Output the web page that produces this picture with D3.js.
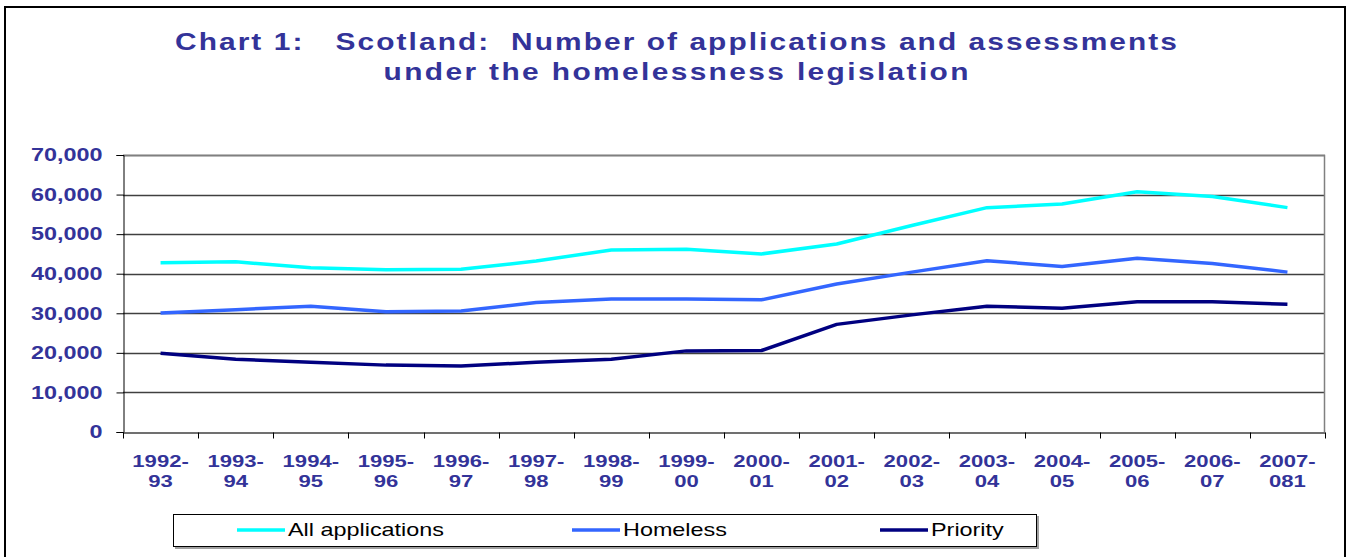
<!DOCTYPE html>
<html>
<head>
<meta charset="utf-8">
<script src="https://cdn.jsdelivr.net/npm/d3@7"></script>
<style>
  body { margin: 0; background: #fff; }
  svg { display: block; font-family: Arial, "Liberation Sans", sans-serif; }
</style>
</head>
<body>
<div class="chart_line"></div>
<script>
// categories and series
var years = ["1992-93", "1993-94", "1994-95", "1995-96", "1996-97", "1997-98", "1998-99", "1999-00",
             "2000-01", "2001-02", "2002-03", "2003-04", "2004-05", "2005-06", "2006-07", "2007-081"];
var allApplications = [42800, 43000, 41500, 41000, 41100, 43200, 46000, 46200,
                       45000, 47500, 52200, 56700, 57600, 60700, 59500, 56700];
var homeless = [30100, 30900, 31800, 30400, 30600, 32700, 33600, 33600,
                33400, 37400, 40400, 43300, 41800, 43900, 42600, 40400];
var priority = [19900, 18400, 17600, 16900, 16700, 17600, 18400, 20500,
                20600, 27200, 29600, 31800, 31300, 32900, 32900, 32300];
var yTicks = [0, 10000, 20000, 30000, 40000, 50000, 60000, 70000];
var titleLines = ["Chart 1:   Scotland:  Number of applications and assessments",
                  "under the homelessness legislation"];

var series = [
  {name: "All applications", values: allApplications, color: "#00ffff"},
  {name: "Homeless", values: homeless, color: "#3366ff"},
  {name: "Priority", values: priority, color: "#000080"}
];

var textColor = "#333399";
var sx = 1.3; // the original picture is stretched sideways, text too
var W = 1350, H = 557;
var margin = {top: 155, right: 25, bottom: 125, left: 123};
var wid = W - margin.left - margin.right,
    hei = H - margin.top - margin.bottom;

var svg = d3.select(".chart_line").append("svg")
  .attr("width", W)
  .attr("height", H);

// outer frame
svg.append("rect")
  .attr("x", 5).attr("y", 7)
  .attr("width", 1340).attr("height", 560)
  .attr("fill", "none").attr("stroke", "#000").attr("stroke-width", 2);

// title
var titleW = [1002, 585];
svg.selectAll("text.title")
  .data(titleLines)
  .enter().append("text")
  .attr("class", "title")
  .attr("transform", function(d, i) { return "translate(676," + (50 + i * 30) + ") scale(" + sx + ",1)"; })
  .attr("text-anchor", "middle")
  .attr("xml:space", "preserve")
  .style("white-space", "pre")
  .attr("textLength", function(d, i) { return titleW[i] / sx; })
  .attr("lengthAdjust", "spacing")
  .attr("fill", textColor)
  .attr("font-size", 23)
  .attr("font-weight", "bold")
  .text(function(d) { return d; });

var g = svg.append("g")
  .attr("transform", "translate(" + margin.left + "," + margin.top + ")");

var x = d3.scaleBand().domain(years).range([0, wid]);
var y = d3.scaleLinear().domain([0, 70000]).range([hei, 0]);

// grid lines
g.selectAll("line.grid")
  .data(yTicks.slice(1))
  .enter().append("line")
  .attr("class", "grid")
  .attr("x1", 0).attr("x2", wid)
  .attr("y1", function(d) { return Math.round(y(d)) + 0.5; })
  .attr("y2", function(d) { return Math.round(y(d)) + 0.5; })
  .attr("stroke", d3.color("#000").copy({opacity: 0.75}))
  .attr("stroke-width", 1.5);

// plot area border (top/right in grey)
g.append("path")
  .attr("d", "M0," + (Math.round(y(70000)) + 0.5) + "H" + (wid - 0.5) + "V" + hei)
  .attr("fill", "none")
  .attr("stroke", "#808080")
  .attr("stroke-width", 1.5);

// Y axis
var yAxis = g.append("g")
  .attr("transform", "translate(0.5,0)")
  .call(d3.axisLeft(y).tickValues(yTicks).tickSize(7)
        .tickFormat(d3.format(",")));
yAxis.select(".domain").attr("stroke", "#000");
yAxis.selectAll(".tick line").attr("stroke", "#000");
yAxis.selectAll(".tick text")
  .attr("x", -21 / sx)
  .attr("transform", "scale(" + sx + ",1)")
  .attr("fill", textColor)
  .attr("font-size", 18)
  .attr("font-weight", "bold")
  .attr("font-family", "Arial, 'Liberation Sans', sans-serif");

// X axis
var xAxis = g.append("g")
  .attr("transform", "translate(0," + (hei + 0.5) + ")")
  .call(d3.axisBottom(x).tickSize(0).tickFormat(""));
xAxis.select(".domain").attr("stroke", "#404040").attr("stroke-width", 1.5);

var bounds = years.map(function(d) { return x(d); }).concat([wid]);
xAxis.selectAll("line.bound")
  .data(bounds)
  .enter().append("line")
  .attr("class", "bound")
  .attr("x1", function(d) { return Math.round(d) + 0.5; })
  .attr("x2", function(d) { return Math.round(d) + 0.5; })
  .attr("y1", 0).attr("y2", 6)
  .attr("stroke", "#000");

var labels = xAxis.selectAll("text.xlab")
  .data(years)
  .enter().append("text")
  .attr("class", "xlab")
  .attr("text-anchor", "middle")
  .attr("fill", textColor)
  .attr("font-size", 17)
  .attr("font-weight", "bold")
  .attr("transform", function(d) { return "translate(" + (x(d) + x.bandwidth() / 2) + ",0) scale(" + sx + ",1)"; });
labels.append("tspan")
  .attr("x", 0).attr("y", 35)
  .text(function(d) { return d.split("-")[0] + "-"; });
labels.append("tspan")
  .attr("x", 0).attr("y", 55)
  .text(function(d) { return d.split("-")[1]; });

// lines
var line = d3.line()
  .x(function(d, i) { return x(years[i]) + x.bandwidth() / 2; })
  .y(function(d) { return y(d); });

g.selectAll("path.series")
  .data(series)
  .enter().append("path")
  .attr("class", "series")
  .attr("d", function(d) { return line(d.values); })
  .attr("fill", "none")
  .attr("stroke", function(d) { return d.color; })
  .attr("stroke-width", 3.5)
  .attr("stroke-linejoin", "round");

// legend
var legend = svg.append("g");
legend.append("rect")
  .attr("x", 175).attr("y", 516)
  .attr("width", 864).attr("height", 33)
  .attr("fill", "#a0a0a0");
legend.append("rect")
  .attr("x", 173.5).attr("y", 514.5)
  .attr("width", 863).attr("height", 32)
  .attr("fill", "#fff").attr("stroke", "#000");

var legendX = [237, 572, 880];
var items = legend.selectAll("g.item")
  .data(series)
  .enter().append("g")
  .attr("class", "item")
  .attr("transform", function(d, i) { return "translate(" + legendX[i] + ",530)"; });
items.append("line")
  .attr("x1", 0).attr("x2", 48)
  .attr("stroke", function(d) { return d.color; })
  .attr("stroke-width", 3.5);
items.append("text")
  .attr("transform", "translate(51,0) scale(" + sx + ",1)")
  .attr("dy", "0.35em")
  .attr("font-size", 18)
  .attr("fill", "#000")
  .text(function(d) { return d.name; });
</script>
</body>
</html>
